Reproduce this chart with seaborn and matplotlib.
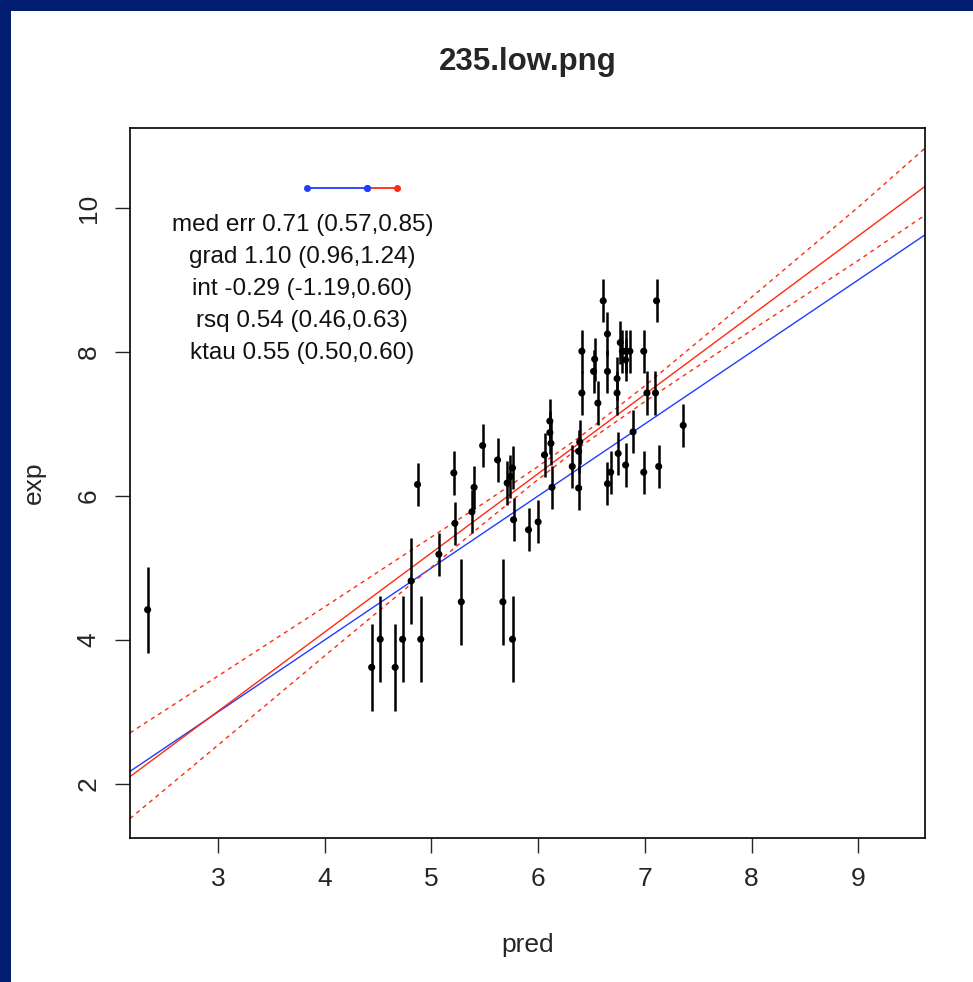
import numpy as np
import pandas as pd
import seaborn as sns
import matplotlib.pyplot as plt
from matplotlib.patches import Rectangle

# data
pred = [2.34, 4.44, 4.52, 4.66, 4.73, 4.81, 4.87, 4.90, 5.07, 5.21,
        5.22, 5.28, 5.38, 5.40, 5.48, 5.62, 5.67, 5.71, 5.74, 5.76,
        5.76, 5.77, 5.91, 6.00, 6.06, 6.11, 6.11, 6.12, 6.13, 6.32,
        6.38, 6.38, 6.39, 6.41, 6.41, 6.52, 6.53, 6.56, 6.61, 6.65,
        6.65, 6.65, 6.68, 6.74, 6.74, 6.75, 6.77, 6.79, 6.82, 6.82,
        6.82, 6.86, 6.89, 6.99, 6.99, 7.02, 7.10, 7.11, 7.13, 7.36]
exp = [4.42, 3.62, 4.01, 3.62, 4.01, 4.82, 6.16, 4.01, 5.19, 6.32,
       5.62, 4.53, 5.78, 6.12, 6.70, 6.50, 4.53, 6.18, 6.27, 6.39,
       4.01, 5.67, 5.53, 5.64, 6.57, 7.04, 6.88, 6.73, 6.12, 6.41,
       6.11, 6.62, 6.75, 8.01, 7.43, 7.73, 7.90, 7.29, 8.71, 8.25,
       7.73, 6.17, 6.33, 7.63, 7.43, 6.59, 8.13, 8.01, 7.89, 8.01,
       6.43, 8.01, 6.89, 8.01, 6.33, 7.43, 7.43, 8.71, 6.41, 6.98]
exp_err = [0.6, 0.6, 0.6, 0.6, 0.6, 0.6, 0.3, 0.6, 0.3, 0.3,
           0.3, 0.6, 0.3, 0.3, 0.3, 0.3, 0.6, 0.3, 0.3, 0.3,
           0.6, 0.3, 0.3, 0.3, 0.3, 0.3, 0.3, 0.3, 0.3, 0.3,
           0.3, 0.3, 0.3, 0.3, 0.3, 0.3, 0.3, 0.3, 0.3, 0.3,
           0.3, 0.3, 0.3, 0.3, 0.3, 0.3, 0.3, 0.3, 0.3, 0.3,
           0.3, 0.3, 0.3, 0.3, 0.3, 0.3, 0.3, 0.3, 0.3, 0.3]

# fitted line and its confidence band
grad = 1.10
intercept = -0.29
band_x = [2.175, 3, 4, 5, 5.5, 6, 6.4, 7, 8, 9, 9.626]
band_hi = [2.71, 3.50, 4.46, 5.43, 5.91, 6.41, 6.83, 7.53, 8.76, 10.01, 10.83]
band_lo = [1.52, 2.54, 3.78, 5.01, 5.63, 6.23, 6.69, 7.31, 8.30, 9.27, 9.90]

# error scale marker on top
scale_x = [3.83, 4.40, 4.68]
scale_y = 10.28

stats_lines = ["med err 0.71 (0.57,0.85)",
               "grad 1.10 (0.96,1.24)",
               "int -0.29 (-1.19,0.60)",
               "rsq 0.54 (0.46,0.63)",
               "ktau 0.55 (0.50,0.60)"]

xlim = (2.175, 9.626)
ylim = (1.25, 11.11)

sns.set_theme(style="ticks")
plt.rcParams['font.family'] = ['Liberation Sans', 'DejaVu Sans']

fig = plt.figure(figsize=(9.73, 9.82), dpi=100, facecolor='#031d72')
fig.patches.append(Rectangle((11 / 973, 0), 1, 1 - 11 / 982, transform=fig.transFigure,
                             facecolor='white', edgecolor='none', zorder=-10))
ax = fig.add_axes([130 / 973, 1 - 838 / 982, 795 / 973, 710 / 982])
ax.set_facecolor('white')

df = pd.DataFrame({"pred": pred, "exp": exp, "err": exp_err})

# identity line, fit, band
line_x = np.array(xlim)
sns.lineplot(x=line_x, y=line_x, color='#1f3dff', lw=1.0, ax=ax)
sns.lineplot(x=line_x, y=grad * line_x + intercept, color='#ff2a10', lw=1.0, ax=ax)
ax.plot(band_x, band_hi, color='#ff2a10', lw=1.0, ls=(0, (3, 3)))
ax.plot(band_x, band_lo, color='#ff2a10', lw=1.0, ls=(0, (3, 3)))

ax.errorbar(df["pred"], df["exp"], yerr=df["err"], fmt='none', ecolor='black',
            elinewidth=1.8, capsize=0, zorder=3)
sns.scatterplot(data=df, x="pred", y="exp", color='black', s=26, edgecolor='none',
                ax=ax, zorder=4)

ax.plot(scale_x[:2], [scale_y] * 2, color='#1f3dff', lw=1.3, marker='o', ms=4)
ax.plot(scale_x[1:], [scale_y] * 2, color='#ff2a10', lw=1.3)
ax.plot([scale_x[2]], [scale_y], color='#ff2a10', marker='o', ms=4)
ax.plot([scale_x[1]], [scale_y], color='#1f3dff', marker='o', ms=4)

for i, s in enumerate(stats_lines):
    ax.text(3.79, 9.76 - i * 0.444, s, ha='center', va='center', fontsize=17.5, color='#111111')

ax.set_xlim(*xlim)
ax.set_ylim(*ylim)
ax.set_xticks([3, 4, 5, 6, 7, 8, 9])
ax.set_yticks([2, 4, 6, 8, 10])
ax.tick_params(axis='both', direction='out', length=11, width=1, labelsize=19, pad=10)
for lbl in ax.get_yticklabels():
    lbl.set_rotation(90)
    lbl.set_va('center')
for sp in ax.spines.values():
    sp.set_visible(True)
    sp.set_linewidth(1.2)
    sp.set_color('black')

ax.set_xlabel("pred", fontsize=19, labelpad=30)
ax.set_ylabel("exp", fontsize=19, labelpad=22)
ax.set_title("235.low.png", fontsize=22.5, fontweight='bold', pad=42)

fig.savefig("out.png", dpi=100, facecolor=fig.get_facecolor())
